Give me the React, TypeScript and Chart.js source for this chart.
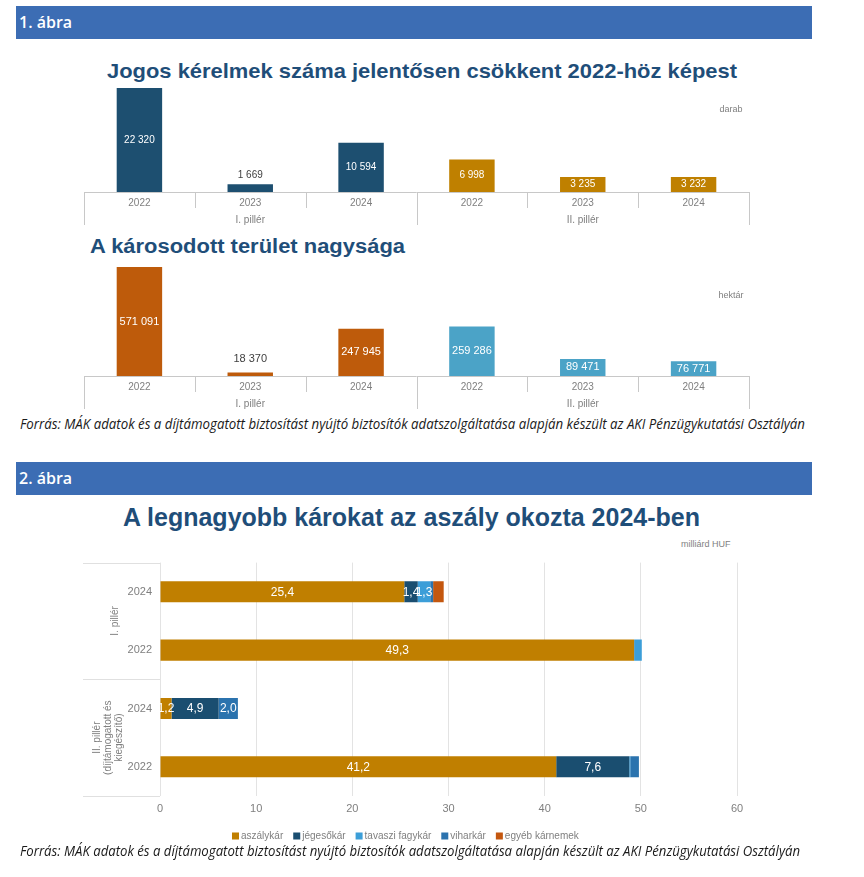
import React, { useEffect, useLayoutEffect, useRef } from 'react';
import { Chart, registerables } from 'chart.js';

Chart.register(...registerables);
Chart.defaults.font.family = '"Liberation Sans", Arial, sans-serif';

// ---------- data ----------
const years = ['2022', '2023', '2024', '2022', '2023', '2024'];
const pillarGroups = ['I. pillér', 'II. pillér'];
const claims = [22320, 1669, 10594, 6998, 3235, 3232];
const claimColors = ['#1D4F70', '#1D4F70', '#1D4F70', '#BF8000', '#BF8000', '#BF8000'];
const area = [571091, 18370, 247945, 259286, 89471, 76771];
const areaColors = ['#BE5B0B', '#BE5B0B', '#BE5B0B', '#4BA3C7', '#4BA3C7', '#4BA3C7'];

const lossCats = ['2024', '2022', '2024', '2022'];
const lossGroups = [['I. pillér'], ['II. pillér', '(díjtámogatott és', 'kiegészítő)']];
const aszalykar = [25.4, 49.3, 1.2, 41.2];
const jegesokar = [1.4, 0, 4.9, 7.6];
const tavaszi = [1.3, 0.8, 0, 0.1];
const viharkar = [0.3, 0, 2.0, 0.9];
const egyeb = [1.1, 0, 0, 0];
const lossSeries = ['aszálykár', 'jégesőkár', 'tavaszi fagykár', 'viharkár', 'egyéb kárnemek'];
const lossColors = ['#C07F00', '#1A4E70', '#3C9ED8', '#2B73AE', '#C4570F'];

const fmtInt = (v: number) => String(v).replace(/\B(?=(\d{3})+(?!\d))/g, ' ');
const fmtDec = (v: number) => v.toFixed(1).replace('.', ',');

const GRAY = '#7F7F7F';

// ---------- helpers ----------
function FitText({ text, left, top, width, style }: any) {
  const ref = useRef<HTMLSpanElement>(null);
  useLayoutEffect(() => {
    const fit = () => {
      const el = ref.current;
      if (!el) return;
      el.style.transform = 'none';
      const w = el.getBoundingClientRect().width;
      if (w > 0) el.style.transform = `scaleX(${width / w})`;
    };
    fit();
    (document as any).fonts?.ready?.then(fit);
  }, [text, width]);
  return (
    <span
      ref={ref}
      style={{ position: 'absolute', left, top, whiteSpace: 'nowrap', transformOrigin: '0 0', ...style }}
    >
      {text}
    </span>
  );
}

function columnPlugin(unit: string, unitX: number, unitY: number, aboveOffset: number, labelSize: number) {
  return {
    id: 'columnGroups',
    afterDatasetsDraw(chart: any) {
      const ctx = chart.ctx as CanvasRenderingContext2D;
      const { left, right, bottom } = chart.chartArea;
      const xs = chart.scales.x;
      const n = chart.data.labels.length;
      ctx.save();
      ctx.strokeStyle = '#C8C8C8';
      ctx.lineWidth = 1;
      ctx.beginPath();
      ctx.moveTo(left, bottom + 0.5);
      ctx.lineTo(right, bottom + 0.5);
      for (let i = 0; i <= n; i++) {
        let x: number;
        if (i === 0) x = left;
        else if (i === n) x = right;
        else x = (xs.getPixelForValue(i - 1) + xs.getPixelForValue(i)) / 2;
        x = Math.round(x) + 0.5;
        const len = i % 3 === 0 ? 33 : 16;
        ctx.moveTo(x, bottom);
        ctx.lineTo(x, bottom + len);
      }
      ctx.stroke();

      ctx.fillStyle = GRAY;
      ctx.textAlign = 'center';
      ctx.textBaseline = 'middle';
      ctx.font = '10px "Liberation Sans", Arial, sans-serif';
      for (let i = 0; i < n; i++) {
        ctx.fillText(chart.data.labels[i], xs.getPixelForValue(i), bottom + 11);
      }
      for (let g = 0; g < pillarGroups.length; g++) {
        const cx = (xs.getPixelForValue(g * 3) + xs.getPixelForValue(g * 3 + 2)) / 2;
        ctx.fillText(pillarGroups[g], cx, bottom + 28);
      }
      ctx.font = '9px "Liberation Sans", Arial, sans-serif';
      ctx.fillText(unit, unitX, unitY);

      const meta = chart.getDatasetMeta(0);
      const data = chart.data.datasets[0].data;
      ctx.font = `${labelSize}px "Liberation Sans", Arial, sans-serif`;
      meta.data.forEach((el: any, i: number) => {
        const h = el.base - el.y;
        if (h < 13) {
          ctx.fillStyle = '#404040';
          ctx.fillText(fmtInt(data[i]), el.x, el.y - aboveOffset);
        } else {
          ctx.fillStyle = '#FFFFFF';
          ctx.fillText(fmtInt(data[i]), el.x, (el.y + el.base) / 2);
        }
      });
      ctx.restore();
    },
  };
}

function ColumnChart({ top, height, values, colors, max, padding, unit, unitX, unitY, aboveOffset, labelSize }: any) {
  const ref = useRef<HTMLCanvasElement>(null);
  useEffect(() => {
    if (!ref.current) return;
    const chart = new Chart(ref.current, {
      type: 'bar',
      data: {
        labels: years,
        datasets: [{ data: values, backgroundColor: colors, categoryPercentage: 1, barPercentage: 0.41 }],
      },
      options: {
        animation: false,
        responsive: true,
        maintainAspectRatio: false,
        layout: { padding },
        plugins: { legend: { display: false }, tooltip: { enabled: false } },
        scales: {
          x: { display: false },
          y: { display: false, min: 0, max },
        },
      },
      plugins: [columnPlugin(unit, unitX, unitY, aboveOffset, labelSize)],
    });
    return () => chart.destroy();
  }, []);
  return (
    <div style={{ position: 'absolute', left: 0, top, width: 864, height }}>
      <canvas ref={ref} />
    </div>
  );
}

const lossPlugin = {
  id: 'lossExtras',
  afterDatasetsDraw(chart: any) {
    const ctx = chart.ctx as CanvasRenderingContext2D;
    const { left, top, bottom } = chart.chartArea;
    const ys = chart.scales.y;
    ctx.save();
    // value labels
    ctx.fillStyle = '#FFFFFF';
    ctx.textAlign = 'center';
    ctx.textBaseline = 'middle';
    ctx.font = '12px "Liberation Sans", Arial, sans-serif';
    chart.data.datasets.forEach((ds: any, di: number) => {
      const meta = chart.getDatasetMeta(di);
      meta.data.forEach((el: any, i: number) => {
        const v = ds.data[i];
        if (v >= 1.15) ctx.fillText(fmtDec(v), (el.x + el.base) / 2, el.y + 0.5);
      });
    });
    // group separators
    const mid = (ys.getPixelForValue(1) + ys.getPixelForValue(2)) / 2;
    ctx.strokeStyle = '#E0E0E0';
    ctx.lineWidth = 1;
    ctx.beginPath();
    [top, mid, bottom].forEach((y) => {
      const yy = Math.round(y) + 0.5;
      ctx.moveTo(83, yy);
      ctx.lineTo(left, yy);
    });
    ctx.stroke();
    // rotated group labels
    ctx.fillStyle = GRAY;
    ctx.font = '10px "Liberation Sans", Arial, sans-serif';
    const centers = [
      { x: 115, y: (top + mid) / 2 },
      { x: 108, y: (mid + bottom) / 2 },
    ];
    lossGroups.forEach((lines, g) => {
      ctx.save();
      ctx.translate(centers[g].x, centers[g].y);
      ctx.rotate(-Math.PI / 2);
      const lh = 11;
      lines.forEach((t, k) => {
        ctx.fillText(t, 0, (k - (lines.length - 1) / 2) * lh);
      });
      ctx.restore();
    });
    // legend
    ctx.textAlign = 'left';
    ctx.font = '10px "Liberation Sans", Arial, sans-serif';
    let x = 232;
    const ly = 836 - 548;
    chart.data.datasets.forEach((ds: any) => {
      ctx.fillStyle = ds.backgroundColor;
      ctx.fillRect(x, ly - 3.5, 7, 7);
      x += 9;
      ctx.fillStyle = GRAY;
      ctx.fillText(ds.label, x, ly);
      x += ctx.measureText(ds.label).width + 10;
    });
    ctx.restore();
  },
};

function LossChart() {
  const ref = useRef<HTMLCanvasElement>(null);
  useEffect(() => {
    if (!ref.current) return;
    const series = [aszalykar, jegesokar, tavaszi, viharkar, egyeb];
    const chart = new Chart(ref.current, {
      type: 'bar',
      data: {
        labels: lossCats,
        datasets: series.map((d, i) => ({
          label: lossSeries[i],
          data: d,
          backgroundColor: lossColors[i],
          categoryPercentage: 1,
          barPercentage: 0.36,
        })),
      },
      options: {
        indexAxis: 'y',
        animation: false,
        responsive: true,
        maintainAspectRatio: false,
        layout: { padding: { left: 0, right: 127, top: 9, bottom: 32 } },
        plugins: { legend: { display: false }, tooltip: { enabled: false } },
        scales: {
          x: {
            stacked: true,
            min: 0,
            max: 60,
            ticks: { stepSize: 10, color: GRAY, font: { size: 11 }, padding: 6 },
            grid: { color: '#E3E3E3', drawTicks: false },
            border: { display: false },
            afterFit: (s: any) => {
              s.height = 20;
            },
          },
          y: {
            stacked: true,
            ticks: { color: GRAY, font: { size: 11 }, padding: 8 },
            grid: { display: false, drawTicks: false },
            border: { display: false },
            afterFit: (s: any) => {
              s.width = 160;
            },
          },
        },
      },
      plugins: [lossPlugin],
    });
    return () => chart.destroy();
  }, []);
  return (
    <div style={{ position: 'absolute', left: 0, top: 548, width: 864, height: 300 }}>
      <canvas ref={ref} />
    </div>
  );
}

const headerStyle: React.CSSProperties = {
  position: 'absolute',
  left: 16,
  width: 796,
  height: 33,
  background: '#3C6DB4',
  color: '#FFFFFF',
  fontFamily: '"Open Sans", "Noto Sans", sans-serif',
  fontWeight: 600,
  fontSize: 16,
  lineHeight: '33px',
  paddingLeft: 3,
  boxSizing: 'border-box',
};

const titleStyle: React.CSSProperties = {
  fontFamily: '"Liberation Sans", Arial, sans-serif',
  fontWeight: 700,
  color: '#1F4E79',
};

const sourceStyle: React.CSSProperties = {
  fontFamily: '"Open Sans", "Noto Sans", sans-serif',
  fontStyle: 'italic',
  fontSize: 14,
  lineHeight: '18px',
  color: '#1A1A1A',
};

const SOURCE =
  'Forrás: MÁK adatok és a díjtámogatott biztosítást nyújtó biztosítók adatszolgáltatása alapján készült az AKI  Pénzügykutatási Osztályán';
const SOURCE2 =
  'Forrás: MÁK adatok és a díjtámogatott biztosítást nyújtó biztosítók adatszolgáltatása alapján készült az AKI Pénzügykutatási Osztályán';

export default function App() {
  return (
    <div style={{ position: 'absolute', left: 0, top: 0, width: 864, height: 877, background: '#FFFFFF', overflow: 'hidden' }}>
      <div style={{ ...headerStyle, top: 6 }}>1. ábra</div>
      <FitText
        text="Jogos kérelmek száma jelentősen csökkent 2022-höz képest"
        left={107}
        top={59}
        width={630}
        style={{ ...titleStyle, fontSize: 21, lineHeight: '24px' }}
      />
      <ColumnChart
        top={80}
        height={150}
        values={claims}
        colors={claimColors}
        max={22320}
        padding={{ left: 84, right: 115, top: 8, bottom: 38 }}
        unit="darab"
        unitX={731}
        unitY={30}
        aboveOffset={9}
        labelSize={10}
      />
      <FitText
        text="A károsodott terület nagysága"
        left={90}
        top={234}
        width={315}
        style={{ ...titleStyle, fontSize: 20, lineHeight: '24px' }}
      />
      <ColumnChart
        top={259}
        height={155}
        values={area}
        colors={areaColors}
        max={571091}
        padding={{ left: 84, right: 115, top: 8, bottom: 38 }}
        unit="hektár"
        unitX={731}
        unitY={37}
        aboveOffset={14}
        labelSize={11}
      />
      <FitText text={SOURCE} left={20} top={415} width={785} style={sourceStyle} />

      <div style={{ ...headerStyle, top: 462 }}>2. ábra</div>
      <FitText
        text="A legnagyobb károkat az aszály okozta 2024-ben"
        left={123}
        top={503}
        width={577}
        style={{ ...titleStyle, fontSize: 25, lineHeight: '28px' }}
      />
      <span
        style={{
          position: 'absolute',
          left: 681,
          top: 538,
          fontFamily: '"Liberation Sans", Arial, sans-serif',
          fontSize: 9,
          lineHeight: '12px',
          color: GRAY,
          whiteSpace: 'nowrap',
        }}
      >
        milliárd HUF
      </span>
      <LossChart />
      <FitText text={SOURCE2} left={20} top={842} width={780} style={sourceStyle} />
    </div>
  );
}
